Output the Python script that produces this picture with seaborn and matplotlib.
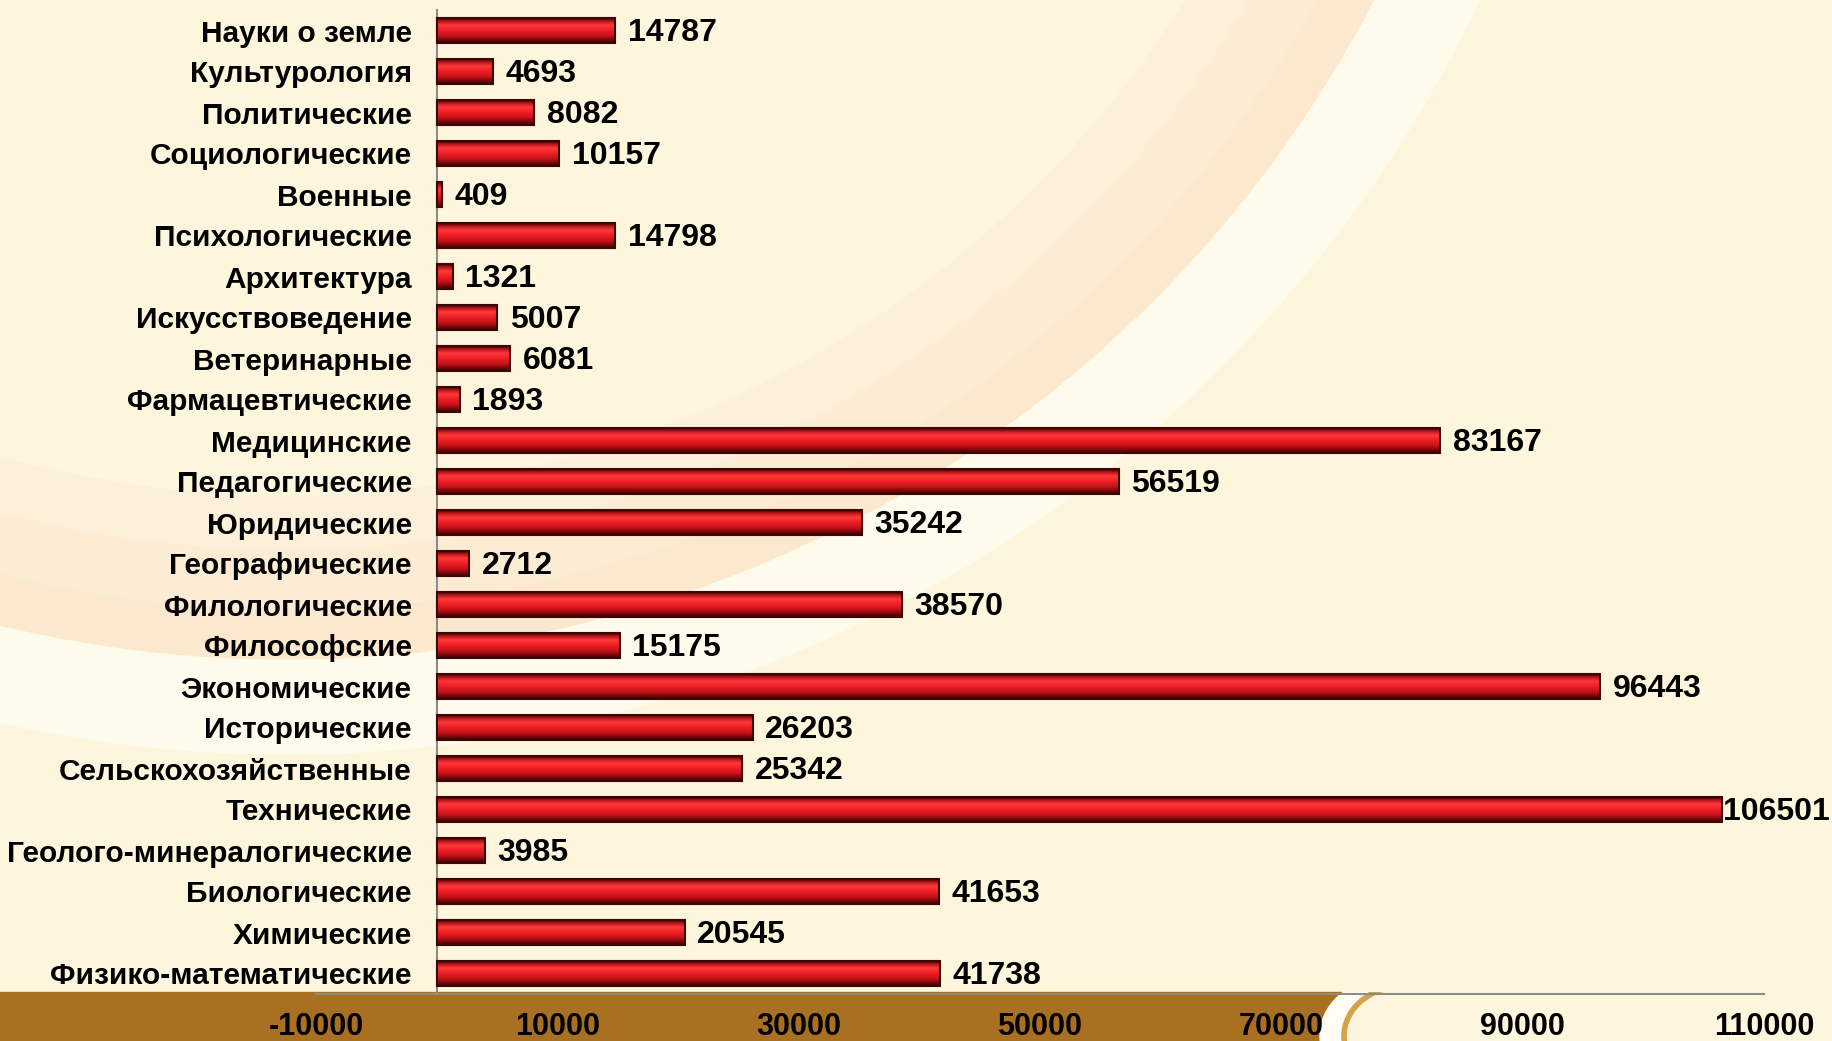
import matplotlib
matplotlib.use("Agg")
import matplotlib.pyplot as plt
from matplotlib.colors import LinearSegmentedColormap
from matplotlib.patches import Circle, Ellipse, Rectangle
import seaborn as sns
import numpy as np
import pandas as pd

categories = [
    "Науки о земле", "Культурология", "Политические", "Социологические",
    "Военные", "Психологические", "Архитектура", "Искусствоведение",
    "Ветеринарные", "Фармацевтические", "Медицинские", "Педагогические",
    "Юридические", "Географические", "Филологические", "Философские",
    "Экономические", "Исторические", "Сельскохозяйственные", "Технические",
    "Геолого-минералогические", "Биологические", "Химические",
    "Физико-математические",
]
values = [
    14787, 4693, 8082, 10157, 409, 14798, 1321, 5007, 6081, 1893,
    83167, 56519, 35242, 2712, 38570, 15175, 96443, 26203, 25342,
    106501, 3985, 41653, 20545, 41738,
]
x_ticks = [-10000, 10000, 30000, 50000, 70000, 90000, 110000]

df = pd.DataFrame({"cat": categories, "val": values})

cream = "#FEF6DC"
sns.set_style("white")
plt.rcParams["font.family"] = ["Liberation Sans", "DejaVu Sans"]
plt.rcParams["font.weight"] = "bold"

W, H = 1833, 1041
fig = plt.figure(figsize=(W / 100, H / 100), dpi=100, facecolor=cream)

# background decoration (pixel coords)
bg = fig.add_axes([0, 0, 1, 1], zorder=-1)
bg.set_xlim(0, W)
bg.set_ylim(H, 0)
bg.axis("off")
bg.add_patch(Rectangle((0, 0), W, H, color=cream, zorder=0))
cx, cy = 287, -566
for r, c in [(1320, "#FFFBEC"), (1225, "#FBE8CD"), (1175, "#FCECD4"),
             (1115, "#FCF0DA"), (1061, cream)]:
    bg.add_patch(Circle((cx, cy), r, color=c, zorder=1))

# brown band at the bottom
band = Rectangle((0, 992), W, 60, transform=bg.transData)
bg.add_patch(Rectangle((0, 992), 1342, 60, color="#A87020", zorder=6))
e1 = Ellipse((1382, 1036), 124, 112, color="#FFFDF4", zorder=7)
e2 = Ellipse((1404, 1036), 120, 100, facecolor=cream,
             edgecolor="#D4A24A", linewidth=4, zorder=8)
e3 = Rectangle((1404, 992), W - 1404, 60, color=cream, zorder=9)
for e in (e1, e2, e3):
    bg.add_patch(e)
    e.set_clip_path(band)

ax = fig.add_axes([316 / W, 1 - 994 / H, (1764 - 316) / W, 984 / H])
ax.set_facecolor("none")

sns.barplot(data=df, x="val", y="cat", orient="h", width=0.6,
            color="#E0161C", ax=ax)

grad = LinearSegmentedColormap.from_list("bar", [
    (0.0, "#2a0404"), (0.1, "#b01015"), (0.28, "#ff3a3a"), (0.45, "#f22228"),
    (0.7, "#c8141a"), (0.88, "#7a0709"), (1.0, "#2a0404")])
g = np.linspace(0, 1, 64).reshape(-1, 1)
for p in ax.patches:
    x0, y0, w, h = p.get_x(), p.get_y(), p.get_width(), p.get_height()
    im = ax.imshow(g, cmap=grad, extent=(x0, x0 + w, y0 + h, y0),
                   aspect="auto", zorder=2, interpolation="bilinear")
    im.set_clip_path(p)
    p.set_facecolor("none")
    p.set_edgecolor("#3a0606")
    p.set_linewidth(1.5)
    p.set_zorder(3)

vmax = max(values)
for p, v in zip(ax.patches, values):
    pad = 1 if v == vmax else 9
    ax.annotate(str(v), (p.get_x() + p.get_width(), p.get_y() + p.get_height() / 2),
                xytext=(pad, -1.5), textcoords="offset points", ha="left",
                va="center", fontsize=23, fontweight="bold", color="black",
                annotation_clip=False)

ax.set_xlim(-10000, 110000)
ax.set_ylim(len(categories) - 0.5, -0.5)
ax.set_xticks(x_ticks)
ax.set_xticklabels([str(t) for t in x_ticks])
ax.set_yticks(range(len(categories)))
ax.set_yticklabels(categories)
ax.set_yticks(np.arange(-0.5, len(categories), 1), minor=True)
ax.tick_params(axis="y", which="major", length=0, pad=18, labelsize=21.5,
               labelcolor="black")
ax.tick_params(axis="y", which="minor", length=6, width=1.3,
               color="#8c8c8c", direction="out")
ax.tick_params(axis="x", length=7, width=1.3, color="#8c8c8c",
               direction="out", pad=6, labelsize=22, labelcolor="black")
ax.set_xlabel("")
ax.set_ylabel("")

ax.spines["left"].set_position(("data", 0))
ax.spines["top"].set_visible(False)
ax.spines["right"].set_visible(False)
for s in ("left", "bottom"):
    ax.spines[s].set_color("#8c8c8c")
    ax.spines[s].set_linewidth(1.5)

fig.savefig("out.png", dpi=100, facecolor=cream)
